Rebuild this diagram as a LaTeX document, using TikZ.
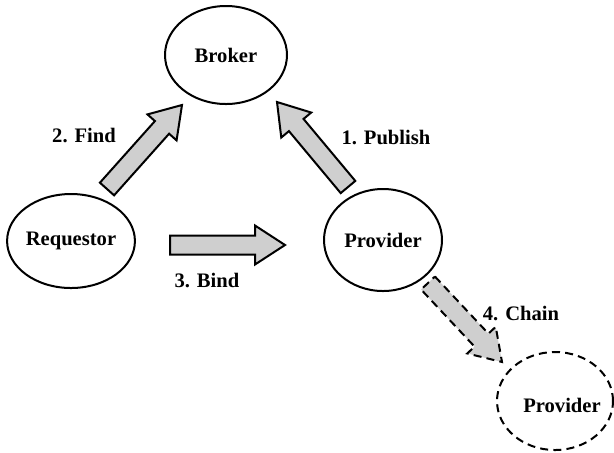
\documentclass[tikz,border=0pt]{standalone}
\usepackage{fontspec}
\setmainfont{Liberation Serif}
\usetikzlibrary{shapes.geometric,calc}

\tikzset{
  role/.style={ellipse, draw, line width=1pt, inner sep=0pt,
    font=\fontsize{10.3}{12}\selectfont\bfseries},
  futurerole/.style={role, dash pattern=on 4pt off 2.6pt},
  steplabel/.style={font=\fontsize{10.3}{12}\selectfont\bfseries, inner sep=0pt},
  blockfill/.style={draw, line width=1pt, fill=gray!38, line join=miter},
  futurefill/.style={blockfill, dash pattern=on 4pt off 2.6pt}
}

% Block arrow from tail coordinate #2 to tip coordinate #3
\newcommand\blockarrow[3][blockfill]{%
  \path[#1]
    ($(#2)!4.75pt!90:(#3)$) --
    ($($(#3)!15pt!(#2)$)!4.75pt!90:(#3)$) --
    ($($(#3)!15pt!(#2)$)!9.75pt!90:(#3)$) --
    (#3) --
    ($($(#3)!15pt!(#2)$)!9.75pt!-90:(#3)$) --
    ($($(#3)!15pt!(#2)$)!4.75pt!-90:(#3)$) --
    ($(#2)!4.75pt!-90:(#3)$) -- cycle;}

\begin{document}
\begin{tikzpicture}[x=0.5pt,y=-0.5pt]
  \useasboundingbox (0,0) rectangle (614,452);

  % Roles
  \node[role, minimum width=61pt, minimum height=49pt] (broker) at (226,55) {Broker};
  \node[role, minimum width=57pt, minimum height=47pt] (requestor) at (71,241) {Requestor};
  \node[role, minimum width=59pt, minimum height=51pt] (provider) at (383,240) {Provider};
  \node[futurerole, minimum width=58pt, minimum height=49pt] (provider2) at (555,401) {};
  \node[steplabel] (provider2text) at (562,405) {Provider};

  % Arrow ends
  \coordinate (findtail) at (107,189);
  \coordinate (findtip) at (182,105);
  \coordinate (pubtail) at (348,187);
  \coordinate (pubtip) at (277,102);
  \coordinate (bindtail) at (170,245);
  \coordinate (bindtip) at (285,245);
  \coordinate (chaintail) at (428,283);
  \coordinate (chaintip) at (502,362);

  % Block arrows
  \blockarrow{findtail}{findtip}
  \blockarrow{pubtail}{pubtip}
  \blockarrow{bindtail}{bindtip}
  \blockarrow[futurefill]{chaintail}{chaintip}

  % Step labels
  \node[steplabel] (findlabel) at (84,135) {2. Find};
  \node[steplabel] (publabel) at (386,137) {1. Publish};
  \node[steplabel] (bindlabel) at (207,280) {3. Bind};
  \node[steplabel] (chainlabel) at (521,313) {4. Chain};
\end{tikzpicture}
\end{document}
